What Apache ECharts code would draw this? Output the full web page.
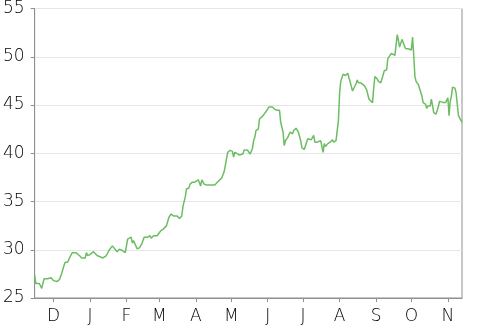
<!DOCTYPE html>
<html>
<head>
<meta charset="utf-8">
<script src="https://cdn.jsdelivr.net/npm/echarts@6/dist/echarts.min.js"></script>
<style>
html,body{margin:0;padding:0;background:#fff;}
#chart{width:477px;height:325px;}
</style>
</head>
<body>
<div id="chart"></div>
<script>
const dates = [
"2018-11-15","2018-11-16","2018-11-19","2018-11-21","2018-11-23","2018-11-26","2018-11-29",
"2018-12-01","2018-12-02","2018-12-04","2018-12-06","2018-12-08","2018-12-10","2018-12-11","2018-12-13",
"2018-12-15","2018-12-17","2018-12-20","2018-12-23","2018-12-25","2018-12-28","2018-12-29","2018-12-30",
"2019-01-01","2019-01-04","2019-01-07","2019-01-10","2019-01-12","2019-01-15","2019-01-17","2019-01-20",
"2019-01-21","2019-01-24","2019-01-26","2019-01-28","2019-01-31",
"2019-02-02","2019-02-05","2019-02-06","2019-02-07","2019-02-10","2019-02-12","2019-02-14","2019-02-16",
"2019-02-19","2019-02-21","2019-02-22","2019-02-24","2019-02-27",
"2019-03-02","2019-03-04","2019-03-05","2019-03-07","2019-03-09","2019-03-11","2019-03-13","2019-03-16",
"2019-03-18","2019-03-20","2019-03-21","2019-03-23","2019-03-24","2019-03-26","2019-03-27","2019-03-29","2019-03-31",
"2019-04-03","2019-04-04","2019-04-05","2019-04-06","2019-04-08","2019-04-10","2019-04-13","2019-04-17",
"2019-04-20","2019-04-23","2019-04-25","2019-04-26","2019-04-28","2019-04-30",
"2019-05-02","2019-05-03","2019-05-04","2019-05-06","2019-05-08","2019-05-11","2019-05-12","2019-05-15",
"2019-05-16","2019-05-17","2019-05-19","2019-05-20","2019-05-21","2019-05-22","2019-05-24","2019-05-25",
"2019-05-26","2019-05-28","2019-05-29","2019-05-31",
"2019-06-02","2019-06-03","2019-06-05","2019-06-07","2019-06-08","2019-06-09","2019-06-11","2019-06-12",
"2019-06-14","2019-06-15","2019-06-16","2019-06-18","2019-06-20","2019-06-22","2019-06-23","2019-06-25",
"2019-06-26","2019-06-27","2019-06-29","2019-06-30",
"2019-07-02","2019-07-03","2019-07-05","2019-07-08","2019-07-10","2019-07-11","2019-07-13","2019-07-16",
"2019-07-18","2019-07-19","2019-07-20","2019-07-22","2019-07-24","2019-07-26","2019-07-27","2019-07-29","2019-07-31",
"2019-08-01","2019-08-02","2019-08-04","2019-08-06","2019-08-08","2019-08-09","2019-08-10","2019-08-12",
"2019-08-13","2019-08-15","2019-08-16","2019-08-17","2019-08-19","2019-08-22","2019-08-24","2019-08-26",
"2019-08-27","2019-08-29","2019-08-30","2019-08-31",
"2019-09-02","2019-09-03","2019-09-05","2019-09-07","2019-09-08","2019-09-10","2019-09-11","2019-09-12",
"2019-09-14","2019-09-15","2019-09-17","2019-09-18","2019-09-19","2019-09-20","2019-09-21","2019-09-23",
"2019-09-24","2019-09-26","2019-09-27","2019-09-29",
"2019-10-01","2019-10-02","2019-10-03","2019-10-04","2019-10-05","2019-10-06","2019-10-07","2019-10-08",
"2019-10-10","2019-10-11","2019-10-13","2019-10-14","2019-10-15","2019-10-17","2019-10-18","2019-10-19",
"2019-10-20","2019-10-22","2019-10-24","2019-10-25","2019-10-28","2019-10-30","2019-10-31",
"2019-11-01","2019-11-02","2019-11-03","2019-11-04","2019-11-05","2019-11-07","2019-11-08","2019-11-09",
"2019-11-10","2019-11-11","2019-11-13"
];
const values = [
27.4,26.5,26.5,26.0,27.0,27.0,27.1,
26.8,26.9,26.7,26.9,27.55,28.4,28.7,28.7,
29.25,29.7,29.7,29.4,29.15,29.15,29.7,29.4,
29.5,29.8,29.4,29.25,29.15,29.4,29.9,30.4,
30.5,29.8,30.05,29.95,29.7,
31.1,31.3,30.7,30.95,30.1,30.2,30.6,31.3,
31.3,31.45,31.2,31.45,31.45,
31.95,32.1,31.95,32.5,33.35,33.7,33.5,33.5,
33.25,33.5,34.5,35.5,36.3,36.4,36.8,37.0,37.0,
37.25,37.1,36.6,37.25,36.8,36.7,36.7,36.7,
37.1,37.45,38.1,38.1,40.1,40.3,
40.2,39.6,40.1,39.95,39.8,39.95,40.35,40.3,
40.1,39.9,40.5,41.3,41.65,42.35,42.5,43.55,
43.45,43.9,44.0,44.4,
44.8,44.9,44.8,44.55,44.7,44.45,44.45,43.2,
42.2,40.8,41.3,41.65,42.2,42.0,42.35,42.6,
42.75,42.2,41.3,40.55,
40.4,40.35,41.5,41.4,41.85,41.15,41.15,41.3,
40.1,41.0,40.7,41.0,41.15,41.4,41.15,41.3,43.35,
46.1,47.45,48.2,48.05,48.3,47.8,47.4,46.45,
46.45,47.2,47.6,47.3,47.3,47.0,46.6,45.6,
45.4,45.25,46.75,47.95,
47.7,47.45,47.3,48.1,48.55,48.65,49.8,50.0,
50.35,50.15,50.15,51.2,52.3,51.7,51.0,51.8,
51.7,50.85,50.7,50.8,
50.7,52.05,50.15,47.95,47.45,47.6,47.1,46.95,
45.9,45.25,45.1,44.65,44.9,44.9,45.6,44.9,
44.2,44.05,44.9,45.4,45.25,45.25,45.4,
45.75,43.9,45.4,45.9,46.85,46.75,46.25,45.05,
43.9,43.7,43.2
];
const xStart = "2018-11-15";
const xEnd = "2019-11-13";
const monthLetters = ["J","F","M","A","M","J","J","A","S","O","N","D"];
const yMin = 25, yMax = 55, yStep = 5;

const chart = echarts.init(document.getElementById('chart'), null, {renderer:'canvas'});
const font = "'DejaVu Sans', sans-serif";
chart.setOption({
  animation: false,
  grid: {left: 32, right: 15, top: 6, bottom: 25, show: true, borderColor: '#8f8f8f', borderWidth: 1, backgroundColor: 'transparent'},
  xAxis: {
    type: 'time',
    min: xStart,
    max: xEnd,
    splitNumber: 12,
    minInterval: 28 * 86400000,
    axisLine: {show: true, lineStyle: {color: '#8f8f8f', width: 1}},
    axisTick: {show: true, length: 4, lineStyle: {color: '#8f8f8f'}},
    splitLine: {show: false},
    axisLabel: {
      color: '#000', fontSize: 17, fontFamily: font, fontWeight: 300, margin: 10,
      showMinLabel: false, showMaxLabel: false, hideOverlap: false,
      formatter: function (v) { return monthLetters[new Date(v).getMonth()]; },
      rich: {}
    }
  },
  yAxis: {
    type: 'value',
    min: yMin, max: yMax, interval: yStep,
    axisLine: {show: true, lineStyle: {color: '#8f8f8f', width: 1}},
    axisTick: {show: true, length: 4, lineStyle: {color: '#8f8f8f'}},
    splitLine: {show: true, lineStyle: {color: '#e6e6e6', width: 1}},
    axisLabel: {color: '#000', fontSize: 17, fontFamily: font, fontWeight: 300, margin: 10}
  },
  series: [{
    type: 'line',
    data: dates.map((d, i) => [d, values[i]]),
    showSymbol: false,
    symbol: 'none',
    lineStyle: {color: '#6cbd62', width: 1.5},
    itemStyle: {color: '#6cbd62'}
  }]
});
</script>
</body>
</html>
